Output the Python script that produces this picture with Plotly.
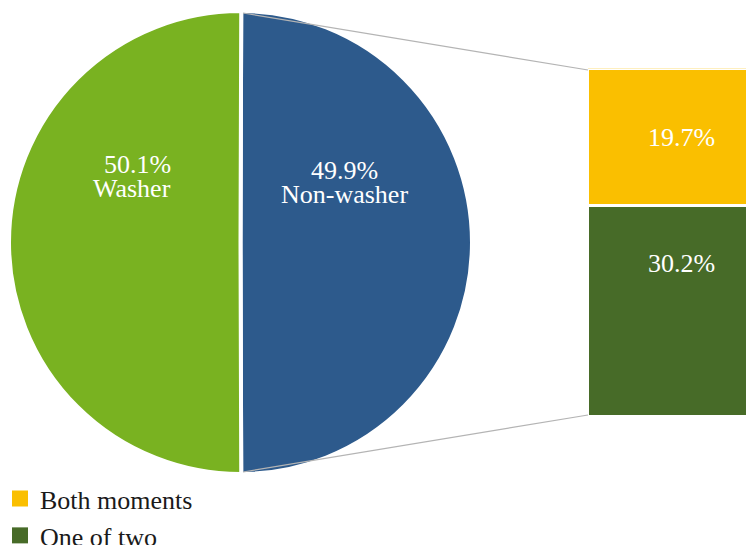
import plotly.graph_objects as go

W, H = 746, 545

pie_labels = ["Non-washer", "Washer"]
pie_values = [49.9, 50.1]
pie_colors = ["#2D5A8C", "#79B221"]

bar_names = ["One of two", "Both moments"]
bar_values = [30.2, 19.7]
bar_colors = ["#476B28", "#FABF00"]

FONT = "Liberation Serif"
FS = 26

# geometry (pixels)
cx, cy, R = 240.5, 242.5, 231.5
bar_left, bar_top, bar_bottom = 588, 70, 415
bar_full_w = 186

fig = go.Figure()

fig.add_trace(go.Pie(
    labels=pie_labels, values=pie_values, sort=False,
    direction="clockwise", rotation=0.18,
    marker=dict(colors=pie_colors, line=dict(color="white", width=4)),
    textinfo="none", hoverinfo="label+value", showlegend=False,
    domain=dict(x=[(cx - R) / W, (cx + R) / W],
                y=[1 - (cy + R) / H, 1 - (cy - R) / H]),
))

for name, val, col in zip(bar_names, bar_values, bar_colors):
    fig.add_trace(go.Bar(
        x=[0], y=[val], name=name, width=1,
        marker=dict(color=col, line=dict(color="white", width=3)),
        showlegend=False, hoverinfo="name+y",
    ))

# legend proxies (square markers)
for name, col in zip(bar_names, bar_colors):
    fig.add_trace(go.Scatter(
        x=[None], y=[None], mode="markers", name=name,
        marker=dict(symbol="square", size=16, color=col, line=dict(width=0)),
        showlegend=True,
    ))

total = sum(bar_values)
vis = (W - bar_left) / bar_full_w
pad = 1.5
fig.update_layout(
    width=W, height=H, margin=dict(l=0, r=0, t=0, b=0, autoexpand=False),
    paper_bgcolor="white", plot_bgcolor="rgba(0,0,0,0)",
    barmode="stack", bargap=0,
    font=dict(family=FONT, size=FS, color="#1a1a1a"),
    xaxis=dict(domain=[bar_left / W, 1], range=[-0.5, -0.5 + vis],
               visible=False, fixedrange=True),
    yaxis=dict(domain=[1 - (bar_bottom + pad) / H, 1 - (bar_top - pad) / H],
               range=[0, total], visible=False, fixedrange=True),
    legend=dict(x=0.0, y=-0.026, xanchor="left", yanchor="bottom",
                traceorder="reversed", font=dict(family=FONT, size=FS, color="#1a1a1a"),
                bgcolor="rgba(0,0,0,0)", itemwidth=30, tracegroupgap=0,
                itemsizing="trace"),
    showlegend=True,
)

# connector lines
top_y = cy - R + 2
bot_y = cy + R - 2
for (y0, y1) in [(top_y, bar_top), (bot_y, bar_bottom)]:
    fig.add_shape(type="line", xref="paper", yref="paper",
                  x0=(cx + 2.5) / W, y0=1 - y0 / H,
                  x1=bar_left / W, y1=1 - y1 / H,
                  line=dict(color="#B4B4B4", width=1.2))

# pie labels: (x, anchor, y of value line, y of name line)
pie_label_pos = {"Washer": (173, "right", 165, 189),
                 "Non-washer": (344, "center", 170, 194)}
for lab, val in zip(pie_labels, pie_values):
    px, anc, py1, py2 = pie_label_pos[lab]
    for txt, py in ((f"{val:.1f}%", py1), (lab, py2)):
        fig.add_annotation(xref="paper", yref="paper", x=px / W, y=1 - py / H,
                           text=txt, showarrow=False,
                           font=dict(family=FONT, size=FS, color="white"),
                           xanchor=anc, yanchor="middle")

# bar labels
fig.add_annotation(x=0, y=bar_values[0] + bar_values[1] / 2, xref="x", yref="y",
                   text=f"{bar_values[1]:.1f}%", showarrow=False,
                   font=dict(family=FONT, size=FS, color="white"))
fig.add_annotation(x=0, y=bar_values[0], xref="x", yref="y", yanchor="top", yshift=-41,
                   text=f"{bar_values[0]:.1f}%", showarrow=False,
                   font=dict(family=FONT, size=FS, color="white"))

fig.write_html("out.html")
